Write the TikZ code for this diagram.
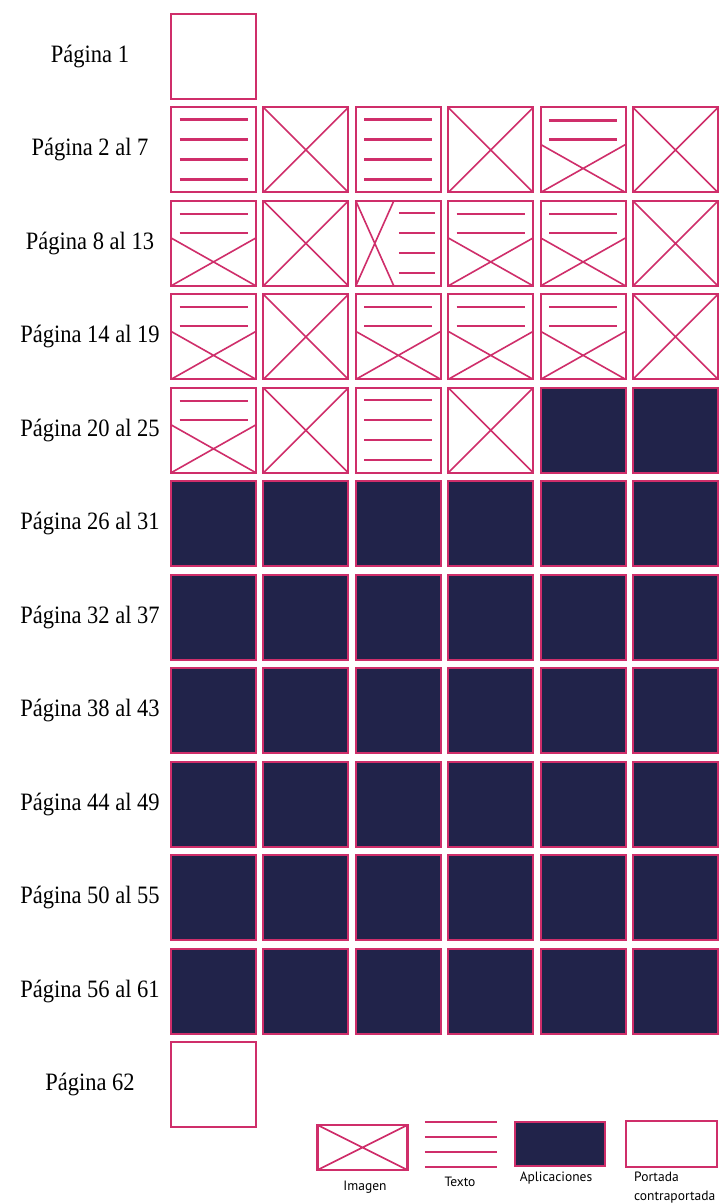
\documentclass[tikz,border=0pt]{standalone}
\usepackage{fontspec}
\usepackage{graphicx}
\setmainfont{Liberation Serif}
\newfontfamily\legfont{PT Sans}
\usetikzlibrary{calc}
\definecolor{pinkc}{HTML}{CF2E6A}
\definecolor{navyc}{HTML}{21234A}
\newcommand\narrowtext[1]{\scalebox{0.9}[1]{#1}}
\tikzset{
  inkline/.style={draw=pinkc, line width=2.2pt},
  crossline/.style={draw=pinkc, line width=1.6pt},
  cellbox/.style={rectangle, draw=pinkc, line width=2pt, minimum width=85pt,
    minimum height=85pt, inner sep=0pt, outer sep=0pt},
  cellB/.style={cellbox},
  cellD/.style={cellbox, fill=navyc},
  % inside path pictures the origin is the node centre (box spans -42.5..42.5)
  cellT/.style={cellbox, path picture={
      \foreach \yy in {-30.5,-10.5,9.5,29.5} \draw[inkline] (-34,\yy) -- (34,\yy);}},
  cellX/.style={cellbox, path picture={
      \draw[crossline] (-42.5,-42.5) -- (42.5,42.5) (42.5,-42.5) -- (-42.5,42.5);}},
  cellTX/.style={cellbox, path picture={
      \foreach \yy in {-29.5,-10.5} \draw[inkline] (-34,\yy) -- (34,\yy);
      \draw[crossline] (-42.5,-5.5) -- (42.5,42.5) (42.5,-5.5) -- (-42.5,42.5);}},
  cellXT/.style={cellbox, path picture={
      \draw[crossline] (-42.5,-42.5) -- (-4.5,42.5) (-4.5,-42.5) -- (-42.5,42.5);
      \foreach \yy in {-30.5,-10.5,9.5,29.5} \draw[inkline, line width=1.8pt] (0.5,\yy) -- (36.5,\yy);}},
  celltype/.code={\edef\celltmp{/tikz/cell#1}\expandafter\pgfkeysalso\expandafter{\celltmp}},
  pagelabel/.style={font=\fontsize{25}{27}\selectfont, inner sep=0pt},
  leglabel/.style={font=\legfont\fontsize{13.5}{14}\selectfont, inner sep=0pt}
}
\begin{document}
\begin{tikzpicture}[x=1pt, y=-1pt]
\useasboundingbox (0,0) rectangle (722,1203);
\fill[white] (0,0) rectangle (722,1203);
% page labels
\foreach \row/\txt in {1/{Página 1}, 2/{Página 2 al 7}, 3/{Página 8 al 13},
  4/{Página 14 al 19}, 5/{Página 20 al 25}, 6/{Página 26 al 31},
  7/{Página 32 al 37}, 8/{Página 38 al 43}, 9/{Página 44 al 49},
  10/{Página 50 al 55}, 11/{Página 56 al 61}, 12/{Página 62}}
  \node[pagelabel] (lab\row) at (90, {56.5+93.45*(\row-1)}) {\narrowtext{\txt}};
% cells
\foreach \row/\types in {1/{B}, 2/{T,X,T,X,TX,X}, 3/{TX,X,XT,TX,TX,X},
  4/{TX,X,TX,TX,TX,X}, 5/{TX,X,T,X,D,D}, 6/{D,D,D,D,D,D}, 7/{D,D,D,D,D,D},
  8/{D,D,D,D,D,D}, 9/{D,D,D,D,D,D}, 10/{D,D,D,D,D,D}, 11/{D,D,D,D,D,D}, 12/{B}}
  \foreach \t [count=\c] in \types
    \node[celltype=\t] (r\row c\c) at ({213.5+92.4*(\c-1)}, {56.5+93.45*(\row-1)}) {};
% legend
\node[cellbox, minimum width=90pt, minimum height=45pt, line width=2.2pt,
  path picture={\draw[crossline] (path picture bounding box.north west) -- (path picture bounding box.south east)
    (path picture bounding box.north east) -- (path picture bounding box.south west);}]
  (legimg) at (362.5,1147.5) {};
\node[minimum width=72pt, minimum height=45pt, inner sep=0pt] (legtxt) at (461,1144.5) {};
\foreach \k in {0,1,2,3}
  \draw[inkline, line width=2pt] ($(legtxt.north west)+(0,{15*\k})$) -- ($(legtxt.north east)+(0,{15*\k})$);
\node[cellbox, fill=navyc, line width=2.2pt, minimum width=90pt, minimum height=44pt] (legapp) at (560,1144) {};
\node[cellbox, line width=1.4pt, minimum width=91pt, minimum height=46pt] (legport) at (671.5,1144) {};
\node[leglabel] (tImg) at (365,1187) {Imagen};
\node[leglabel] (tTxt) at (460,1182) {Texto};
\node[leglabel] (tApp) at (556,1178) {Aplicaciones};
\node[leglabel, anchor=west, align=left, font=\legfont\fontsize{13.5}{19}\selectfont] (tPort) at (634,1187.5) {Portada\\contraportada};
\end{tikzpicture}
\end{document}
